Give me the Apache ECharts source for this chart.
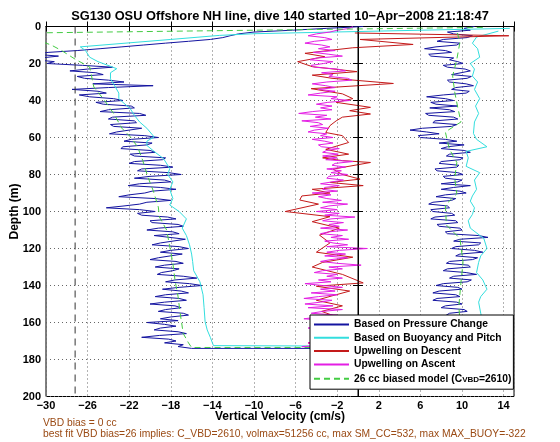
<!DOCTYPE html>
<html><head><meta charset="utf-8">
<script src="https://cdn.jsdelivr.net/npm/echarts@6/dist/echarts.min.js"></script>
<style>html,body{margin:0;padding:0;background:#fff}#c{width:560px;height:442px}</style>
</head><body><div id="c"></div>
<script>
// ---- axes ----
const xMin = -30, xMax = 15, xStep = 4;
const yMin = 0, yMax = 200, yStep = 20;
const vbdBiasLineX = -27.2;
const zeroLineX = 0;

// ---- shared 1 m depth grid for the noisy profiles ----
const depthGrid = [0,1,2,3,4,5,6,7,8,9,
  10,11,12,13,14,15,16,17,18,19,
  20,21,22,23,24,25,26,27,28,29,
  30,31,32,33,34,35,36,37,38,39,
  40,41,42,43,44,45,46,47,48,49,
  50,51,52,53,54,55,56,57,58,59,
  60,61,62,63,64,65,66,67,68,69,
  70,71,72,73,74,75,76,77,78,79,
  80,81,82,83,84,85,86,87,88,89,
  90,91,92,93,94,95,96,97,98,99,
  100,101,102,103,104,105,106,107,108,109,
  110,111,112,113,114,115,116,117,118,119,
  120,121,122,123,124,125,126,127,128,129,
  130,131,132,133,134,135,136,137,138,139,
  140,141,142,143,144,145,146,147,148,149,
  150,151,152,153,154,155,156,157,158,159,
  160,161,162,163,164,165,166,167,168,169,
  170,171,172,173,174];

// Based on Pressure Change - descent (cm/s)
const pressDesc = [0.5,-3,-6.3,-10,-11.5,-12.3,-13.0,-14.2,-16.3,-18.5,
  -20.6,-22.7,-24.8,-27,-29.8,-31,-28.8,-30.5,-31.0,-29.2,
  -29.9,-26.5,-23.6,-26.0,-27.7,-25.2,-24.5,-27.0,-26.3,-24.0,
  -22.5,-25.5,-19.7,-24.0,-27.5,-25.0,-24.2,-26.8,-25.8,-23.5,
  -22.6,-25.2,-24.5,-21.8,-21.5,-24.0,-24.8,-21.0,-20.4,-23.6,
  -24.0,-21.5,-21.3,-23.8,-23.5,-20.8,-22.0,-23.2,-23.9,-20.5,
  -19.2,-21.8,-22.5,-19.8,-20.3,-22.6,-22.8,-20.0,-19.5,-21.9,
  -21.5,-18.5,-18.8,-21.5,-22.0,-19.0,-17.8,-20.8,-21.2,-18.2,
  -17.0,-20.0,-21.5,-18.6,-18.0,-21.0,-22.1,-19.0,-17.5,-19.8,
  -20.5,-22.0,-23.0,-19.5,-18.0,-20.3,-21.0,-22.5,-24.2,-21.0,
  -19.5,-21.2,-20.8,-18.3,-17.5,-20.0,-19.8,-17.3,-16.8,-19.2,
  -20.3,-17.8,-17.2,-19.6,-19.5,-16.6,-16.5,-19.0,-19.8,-17.2,
  -16.3,-18.0,-19.0,-16.9,-17.0,-19.2,-20.0,-17.5,-16.8,-18.6,
  -19.5,-17.2,-17.8,-18.9,-19.3,-16.8,-15.5,-17.6,-18.5,-16.2,
  -15.0,-17.2,-18.8,-17.0,-16.3,-18.5,-19.5,-17.2,-16.5,-18.6,
  -20.0,-17.6,-17.0,-18.5,-19.2,-16.8,-16.3,-18.0,-19.0,-17.3,
  -20.3,-18.6,-17.5,-19.0,-19.6,-17.3,-16.5,-19.1,-20.8,-18.2,
  -17.5,-18.6,-16.8,-17.3,-16.0];
// Based on Pressure Change - ascent (cm/s)
const pressAsc = [11.2,10.2,10.8,8.6,9.2,11.0,10.5,8.2,7.6,9.8,
  9.5,7.5,6.4,8.4,9.0,6.8,7.0,9.2,8.8,9.6,
  10.1,8.2,8.6,10.3,10.8,9.1,9.0,10.9,10.5,8.6,
  8.8,10.4,11.1,9.4,9.0,10.7,10.4,8.2,6.6,8.4,
  9.2,7.0,7.5,9.6,6.9,8.8,9.3,6.5,6.8,9.2,
  9.6,7.4,7.2,9.5,9.0,6.2,5.0,6.6,7.8,5.8,
  6.0,8.4,9.5,7.8,10.2,8.6,8.0,10.2,10.8,8.8,
  8.5,10.1,9.8,8.0,7.8,9.7,9.5,7.4,7.6,9.6,
  10.1,8.2,8.4,10.0,9.6,8.0,10.8,9.2,8.0,9.8,
  10.4,8.4,7.5,9.4,9.0,7.2,6.8,8.6,8.8,7.0,
  7.2,9.0,9.3,7.4,7.0,9.4,9.6,7.6,7.8,9.8,
  10.0,8.4,8.6,11.6,12.5,9.8,9.2,11.8,11.6,9.4,
  9.0,11.2,12.0,9.8,9.4,11.5,11.0,8.8,8.5,10.6,
  10.8,8.6,8.2,10.4,11.4,9.2,8.8,10.9,10.5,8.2,
  7.5,9.6,10.0,7.8,7.2,9.4,9.8,7.6,7.2,9.5,
  10.0,8.4,8.0,10.2,10.5,8.8,8.5,10.4,11.0,9.2,
  9.0,11.2,11.5,9.4,8.8,10.8,10.5,9.0,9.0,10.3,
  10.0,9.2,9.5,10.2,10.0];

// Upwelling on Ascent (cm/s), same 1 m grid
const upAsc = [-0.5,-0.8,-2.0,-2.7,-4.0,-4.8,-3.2,-2.5,-4.2,-5.1,
  -3.5,-2.7,-3.8,-2.2,-4.3,-2.8,-1.5,-3.9,-4.6,-2.4,
  -3.3,-4.5,-4.2,-2.0,-1.2,-3.5,-2.4,-2.8,-1.0,-0.6,
  -3.0,-4.4,-3.1,-2.2,-3.8,-2.2,-3.6,-4.8,-2.0,-2.6,
  -0.8,-2.9,-4.0,-2.5,-3.6,-2.5,-4.4,-5.7,-3.0,-4.1,
  -2.6,-5.4,-3.8,-3.4,-4.6,-2.8,-4.2,-4.8,-3.0,-3.6,
  -2.4,-4.4,-3.2,-2.4,-3.8,-3.5,-1.8,-3.0,-3.4,-1.9,
  -3.4,-2.0,-3.1,-0.5,-2.2,-2.5,-1.2,-3.0,-1.6,-2.6,
  -1.0,-2.8,-3.0,-1.4,-2.5,-3.6,-1.8,-3.2,-3.4,-2.0,
  -4.4,-2.6,-3.8,-3.0,-1.6,-3.4,-1.0,-2.8,-3.6,-2.0,
  -4.0,-1.8,-3.2,-0.3,-2.6,-3.4,-1.4,-2.8,-1.8,-3.6,
  -1.0,-2.8,-3.6,-1.5,-2.6,-0.9,-3.2,-2.4,-1.0,-3.0,
  0.9,-1.8,-3.0,-1.2,-3.2,-1.0,-2.6,-3.6,-2.0,0.3,
  -2.8,-1.5,-3.4,-4.2,-2.0,-3.0,-1.5,-3.8,-2.6,-5.1,
  -3.4,-1.5,-3.6,-2.2,-4.5,-2.0,-3.8,-5.2,-2.5,-3.6,
  -5.1,-2.4,-4.8,-1.5,-3.4,-4.5,-2.0,-3.8,-5.2,-2.5,
  -4.0,-1.8,-3.6,-4.8,-2.2,-3.0,-1.5,-4.5,-2.8,-3.6,
  -2.0,-4.8,-2.6,-5.4,-2.0];

// Based on Buoyancy and Pitch
const buoyDescV = [14.6,-10,-13.3,-18,-26.7,-26.2,-25.8,-25,-23.2,-23.8,-23.8,-23.4,-23,-23,-22.4,-21.9,-21.5,-21,-20.3,-19.6,-20.3,-20.3,-19.5,-18.7,-18.1,-18.3,-17.8,-18.1,-17.8,-18.1,-17.2,-16.5,-16.9,-16.5,-16.2,-16.0,-15.9,-15.8,-15.2,-14.9,-14.8,-14.7,-14.5,-14.2,-13.9];
const buoyDescD = [1,3.9,4.8,7,11,13,16.6,19,22.8,25,28.3,32,36,39,42,44.4,48,51.6,55,59.7,62,64.3,68,71.4,76.8,80,84,88,93,96.5,100,104,109,113,118,123,127,132,138,145,152,159.6,164,168,172.5];
const buoyAscV = [13.5,11.4,11.0,11.5,11.7,10.8,11.2,11.0,11.5,11.2,11.7,11.3,11.6,11.2,11.1,11.4,12.4,10.4,10.6,10.4,11.7,11.2,11.4,11.0,10.8,11.2,11.0,10.6,10.8,12.1,12.4,11.8,11.6,11.4,12.0,12.4,11.8,11.6,11.8,12.0,11.6,11.8,12.0];
const buoyAscD = [2.5,5.7,9,12,16.6,20,23,26.8,30,34,39,43,47,51.6,57.8,61,65,67.5,71,75.6,79,83,88,91.6,94.4,98,101.6,105,109,114.6,120,124,127.5,133,137,142,146,149,155,160,165,170,173];

// Upwelling on Descent
const upDescV = [-0.3,14.5,0.2,5.3,-0.5,-2.4,-5.1,-3.2,-5.8,-4.4,
  -0.1,-4.4,-2.5,3.4,-4.5,-1.5,-0.5,-2.1,1.2,-0.8,
  1.2,-1.5,-2.1,-2.7,-3.1,-1.5,-0.9,-3.1,-0.9,-3.4,
  -1.5,1.2,-2.4,-1.5,0.2,-2.7,0.5,-4.4,-2.7,-5.4,
  -5.6,-3.8,-7,-2.7,-4.4,-1.8,-3.7,-2.7,-4,-0.5,
  -3.4,-4.4,-1.5,0.5,-4,-0.8,-2.5,-4,-1.5,-3.5,
  -2,-4.5,-1.8,-3.8,-2.2,-4.8,-2.5,-3];
const upDescD = [3.5,5,7,9.7,11.5,12.7,14.5,16.3,19,21.7,
  24.4,26.3,28,30.8,33.6,36.4,39,41,43.7,45.5,
  47.3,49,51,53.6,57.3,59,62.7,66.4,69,71,
  72.5,73.5,77.1,80,82.5,84.3,86,88,90,91.6,
  93.8,96,100,102.8,105.5,109,112.8,117,122,124.7,
  127.5,130,134,138.6,140.4,143,145.6,148,151,154,
  157,160,163,166,169,171,173,174.5];

// 26 cc biased model
const modelDescV = [12,-36,-31,-29.5,-28.5,-27.1,-25.8,-25.4,-24.4,-23.5,-22.7,-21.9,-21.2,-20.7,-20.2,-19.7,-19.2,-19.1,-18.4,-18.1,-17.8,-17.6,-17.3,-17.1,-16.8,-16.3,-16.0];
const modelDescD = [0.5,3.8,7,10,13,18,21.9,32.7,39.7,47,55,59.6,65,72.4,81.4,88.6,97.6,102.9,110,119,128,137,146,155,166,171,173.5];
const modelAscV = [9.5,9.8,9.5,9.1,9.3,9.6,9.9,8.4,8.6,8.8,9.5,9.3,9.5,8.4,8.5,9.8,10.1,9.9,9.7,9.8,10.0,10.0];
const modelAscD = [2.3,8.6,17.8,26.8,35.5,44,51.6,57,62,66.4,73.5,82,90.4,96.5,107.3,114.6,127.5,138.3,150.9,160,170,173.5];

const names = ['Based on Pressure Change','Based on Buoyancy and Pitch','Upwelling on Descent','Upwelling on Ascent','26 cc biased model (C_VBD=2610)'];
const titleText = 'SG130 OSU Offshore NH line, dive 140 started 10\u2212Apr\u22122008 21:18:47';
const note1 = 'VBD bias = 0 cc';
const note2 = 'best fit VBD bias=26 implies: C_VBD=2610, volmax=51256 cc, max SM_CC=532, max MAX_BUOY=-322';

// ---- build ----
function zip(v, d) { return v.map((x, i) => [x, d[i]]); }
function descAsc(dv, dd, av, ad) {
  const a = zip(dv, dd);
  const b = zip(av, ad);
  for (let i = b.length - 1; i >= 0; i--) a.push(b[i]);
  return a;
}
const pressData = descAsc(pressDesc, depthGrid, pressAsc, depthGrid);
const buoyData = descAsc(buoyDescV, buoyDescD, buoyAscV, buoyAscD);
const modelData = descAsc(modelDescV, modelDescD, modelAscV, modelAscD);
const upAscData = zip(upAsc, depthGrid).reverse();

const FONT = '"Liberation Sans", Arial, sans-serif';
function lineSeries(name, data, color, type, z) {
  return { name, type: 'line', data, symbol: 'none', showSymbol: false, z: z || 2,
    lineStyle: { color, width: 1, type: type || 'solid' }, itemStyle: { color },
    emphasis: { disabled: true }, animation: false, clip: true };
}

const chart = echarts.init(document.getElementById('c'), null, { renderer: 'canvas' });
const axTick = { show: true, inside: true, length: 5, lineStyle: { color: '#000' } };
chart.setOption({
  animation: false,
  backgroundColor: '#fff',
  title: { text: titleText, left: 'center', top: 5,
    textStyle: { fontFamily: FONT, fontSize: 12.8, fontWeight: 'bold', color: '#000' } },
  grid: { left: 46, right: 46, top: 26.5, bottom: 45.5, show: true, borderColor: '#000', borderWidth: 1 },
  xAxis: [{
    type: 'value', min: xMin, max: xMax, interval: xStep, position: 'bottom',
    name: 'Vertical Velocity (cm/s)', nameLocation: 'middle', nameGap: 14, nameMoveOverlap: false,
    nameTextStyle: { fontFamily: FONT, fontSize: 12, fontWeight: 'bold', color: '#000' },
    axisLine: { lineStyle: { color: '#000' } }, axisTick: axTick,
    axisLabel: { margin: 4, fontFamily: FONT, fontSize: 11, fontWeight: 'bold', color: '#000',
      formatter: v => (v === xMax ? '' : String(v).replace('-', '\u2212')) },
    splitLine: { show: true, lineStyle: { color: '#666', type: [1, 3], width: 1 } }
  }, {
    type: 'value', min: xMin, max: xMax, interval: xStep, position: 'top',
    axisLine: { lineStyle: { color: '#000' } }, axisTick: axTick,
    axisLabel: { show: false }, splitLine: { show: false }
  }],
  yAxis: [{
    type: 'value', min: yMin, max: yMax, interval: yStep, inverse: true, position: 'left',
    name: 'Depth (m)', nameLocation: 'middle', nameGap: 25, nameMoveOverlap: false,
    nameTextStyle: { fontFamily: FONT, fontSize: 12, fontWeight: 'bold', color: '#000' },
    axisLine: { lineStyle: { color: '#000' } }, axisTick: axTick,
    axisLabel: { margin: 5, fontFamily: FONT, fontSize: 11, fontWeight: 'bold', color: '#000' },
    splitLine: { show: true, lineStyle: { color: '#666', type: [1, 3], width: 1 } }
  }, {
    type: 'value', min: yMin, max: yMax, interval: yStep, inverse: true, position: 'right',
    axisLine: { lineStyle: { color: '#000' } }, axisTick: axTick,
    axisLabel: { show: false }, splitLine: { show: false }
  }],
  legend: {
    orient: 'vertical', left: 310, top: 315, z: 20,
    data: names, itemWidth: 35, itemHeight: 8, itemGap: 2.3,
    padding: [4, 2, 5, 3],
    backgroundColor: '#fff', borderColor: '#000', borderWidth: 1, borderRadius: 0,
    selectedMode: false,
    itemStyle: { opacity: 0 },
    textStyle: { fontFamily: FONT, fontSize: 10.3, fontWeight: 'bold', color: '#000', lineHeight: 11,
      rich: { sub: { fontFamily: FONT, fontSize: 8, fontWeight: 'bold', color: '#000', lineHeight: 11, padding: [4, 0, 0, 0], verticalAlign: 'bottom' } } },
    formatter: n => (n === names[4] ? '26 cc biased model (C{sub|VBD}=2610)' : n)
  },
  series: [
    lineSeries(names[0], pressData, '#1414a0'),
    lineSeries(names[1], buoyData, '#33dede'),
    lineSeries(names[2], zip(upDescV, upDescD), '#c41a1a'),
    lineSeries(names[3], upAscData, '#e41ee4'),
    lineSeries(names[4], modelData, '#44cc44', [6, 4]),
    lineSeries('vbd', [[vbdBiasLineX, yMin], [vbdBiasLineX, yMax]], '#333', [7, 5], 3),
    lineSeries('zero', [[zeroLineX, yMin], [zeroLineX, yMax]], '#000', 'solid', 3)
  ],
  graphic: [
    { type: 'text', left: 43, top: 418, style: { text: note1, fill: '#9a4a14', font: '10.3px ' + FONT } },
    { type: 'text', left: 43, top: 429, style: { text: note2, fill: '#9a4a14', font: '10.3px ' + FONT } }
  ]
});
</script>
</body></html>
